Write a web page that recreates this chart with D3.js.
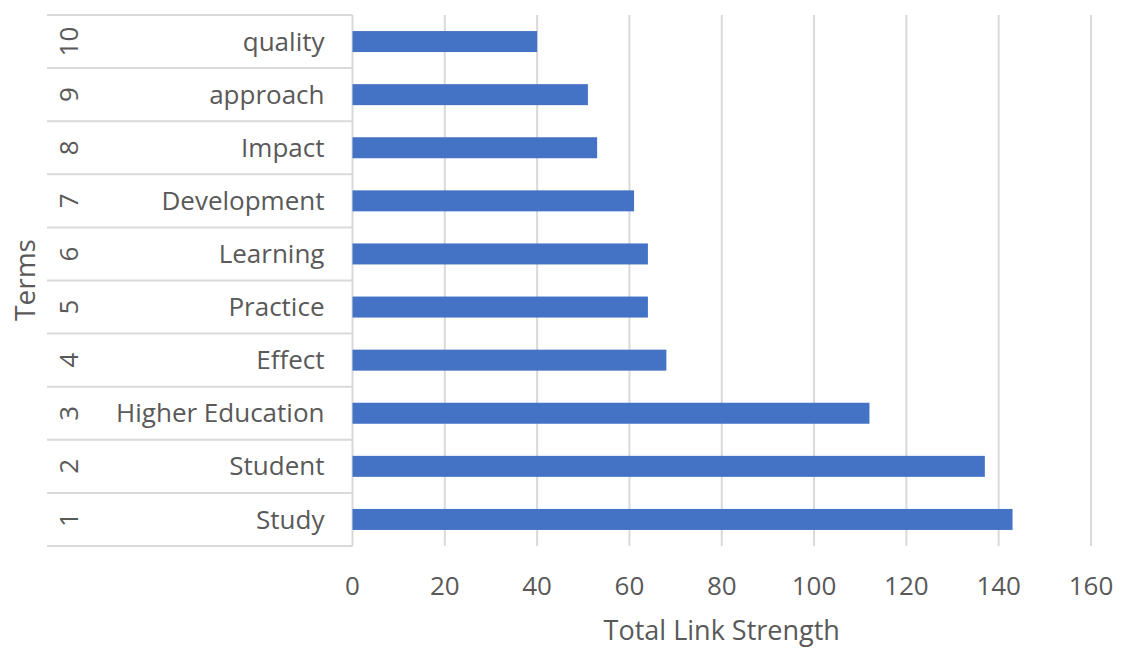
<!DOCTYPE html>
<html>
<head>
<meta charset="utf-8">
<script src="https://cdn.jsdelivr.net/npm/d3@7"></script>
<style>
  body { margin: 0; background: #ffffff; }
  text { font-family: "Open Sans", "Noto Sans", sans-serif; fill: #595959; }
</style>
</head>
<body>
<div id="chart"></div>
<script>
// Data (rank 1 at the bottom)
var ranks = ["1", "2", "3", "4", "5", "6", "7", "8", "9", "10"];
var terms = ["Study", "Student", "Higher Education", "Effect", "Practice",
             "Learning", "Development", "Impact", "approach", "quality"];
var strengths = [143, 137, 112, 68, 64, 64, 61, 53, 51, 40];
var xTicks = [0, 20, 40, 60, 80, 100, 120, 140, 160];

// Set the SVG and margin parameters
var svgWidth = 1121;
var svgHeight = 650;

var margin = {
    top: 15,
    right: 30,
    bottom: 104,
    left: 352.5
};

var width = svgWidth - margin.left - margin.right;
var height = svgHeight - margin.top - margin.bottom;

var svg = d3.select("#chart")
  .append("svg")
  .attr("width", svgWidth)
  .attr("height", svgHeight);

var chartGroup = svg.append("g")
  .attr("transform", `translate(${margin.left}, ${margin.top})`);

var rows = ranks.map((r, i) => ({ rank: r, term: terms[i], value: strengths[i] }));

// Scales
var xLinearScale = d3.scaleLinear()
    .domain([0, 160])
    .range([0, width]);

// highest rank at the top
var yBandScale = d3.scaleBand()
    .domain(ranks.slice().reverse())
    .range([0, height]);

// Vertical gridlines
chartGroup.selectAll(".grid")
    .data(xTicks)
    .enter()
    .append("line")
    .attr("x1", d => xLinearScale(d))
    .attr("x2", d => xLinearScale(d))
    .attr("y1", 0)
    .attr("y2", height)
    .attr("stroke", "#d9d9d9")
    .attr("stroke-width", 2);

// Category separators, reaching left under both label columns
var sepLeft = 47 - margin.left;
var bounds = ranks.map(r => yBandScale(r)).concat([height]);
chartGroup.selectAll(".sep")
    .data(bounds)
    .enter()
    .append("line")
    .attr("x1", sepLeft)
    .attr("x2", 0)
    .attr("y1", d => d)
    .attr("y2", d => d)
    .attr("stroke", "#d9d9d9")
    .attr("stroke-width", 2);

// Bars
chartGroup.selectAll("rect")
    .data(rows)
    .enter()
    .append("rect")
    .attr("x", 0)
    .attr("y", d => yBandScale(d.rank) + (yBandScale.bandwidth() - 21) / 2)
    .attr("width", d => xLinearScale(d.value))
    .attr("height", 21)
    .attr("fill", "#4472c4");

// Term labels
chartGroup.selectAll(".term")
    .data(rows)
    .enter()
    .append("text")
    .attr("x", -28)
    .attr("y", d => yBandScale(d.rank) + yBandScale.bandwidth() / 2)
    .attr("dy", "0.35em")
    .attr("text-anchor", "end")
    .style("font-size", "26px")
    .text(d => d.term);

// Rank labels, rotated
chartGroup.selectAll(".rank")
    .data(rows)
    .enter()
    .append("text")
    .attr("transform", d => `translate(${69 - margin.left}, ${yBandScale(d.rank) + yBandScale.bandwidth() / 2}) rotate(-90)`)
    .attr("dy", "0.35em")
    .attr("text-anchor", "middle")
    .style("font-size", "26px")
    .text(d => d.rank);

// X tick labels
chartGroup.selectAll(".xtick")
    .data(xTicks)
    .enter()
    .append("text")
    .attr("x", d => xLinearScale(d))
    .attr("y", height + 49)
    .attr("text-anchor", "middle")
    .style("font-size", "26px")
    .text(d => d);

// Axis titles
chartGroup.append("text")
    .attr("x", width / 2)
    .attr("y", height + 94)
    .attr("text-anchor", "middle")
    .style("font-size", "27px")
    .text("Total Link Strength");

chartGroup.append("text")
    .attr("transform", `translate(${35 - margin.left}, ${280 - margin.top}) rotate(-90)`)
    .attr("text-anchor", "middle")
    .style("font-size", "28px")
    .text("Terms");
</script>
</body>
</html>
